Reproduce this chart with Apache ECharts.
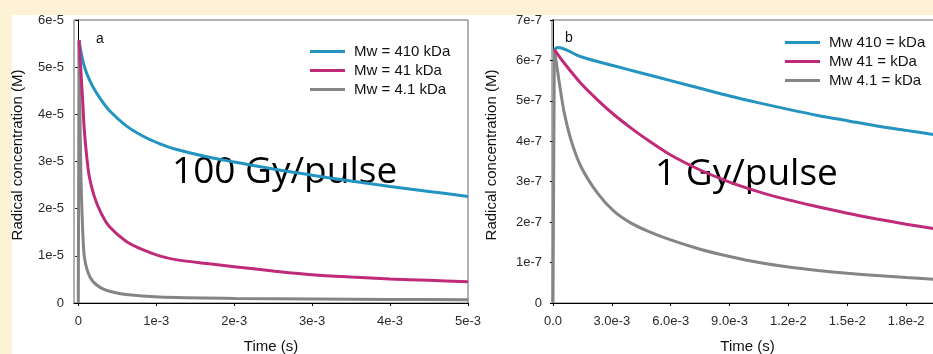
<!DOCTYPE html>
<html>
<head>
<meta charset="utf-8">
<script src="https://cdn.jsdelivr.net/npm/echarts@6/dist/echarts.min.js"></script>
<style>
html,body{margin:0;padding:0;background:#FDF2D6;}
#c{width:933px;height:354px;}
</style>
</head>
<body>
<div id="c"></div>
<script>
// ---- Panel a : 100 Gy/pulse (time in s, concentration in M)
const namesA = ['Mw = 410 kDa', 'Mw = 41 kDa', 'Mw = 4.1 kDa'];
const tA410 = [1e-5, 2.2e-5, 4.5e-5, 7.7e-5, 1.2e-4, 1.85e-4, 2.91e-4, 3.98e-4, 6.12e-4, 8.26e-4, 1.04e-3, 1.25e-3, 1.68e-3, 2.0e-3, 2.5e-3, 3.0e-3, 3.5e-3, 4.0e-3, 4.5e-3, 5.0e-3];
const cA410 = [5.57e-5, 5.44e-5, 5.24e-5, 5.02e-5, 4.82e-5, 4.59e-5, 4.31e-5, 4.08e-5, 3.76e-5, 3.54e-5, 3.38e-5, 3.26e-5, 3.09e-5, 2.99e-5, 2.84e-5, 2.71e-5, 2.585e-5, 2.47e-5, 2.365e-5, 2.26e-5];
const tA41 = [1e-5, 3e-5, 5.6e-5, 7.7e-5, 1.08e-4, 1.41e-4, 2.05e-4, 2.91e-4, 3.98e-4, 6.12e-4, 8.26e-4, 1.04e-3, 1.25e-3, 1.68e-3, 2.0e-3, 2.5e-3, 3.0e-3, 3.5e-3, 4.0e-3, 4.5e-3, 5.0e-3];
const cA41 = [5.57e-5, 5.0e-5, 4.3e-5, 3.67e-5, 3.11e-5, 2.68e-5, 2.26e-5, 1.91e-5, 1.62e-5, 1.31e-5, 1.13e-5, 1.0e-5, 0.92e-5, 0.83e-5, 0.77e-5, 0.68e-5, 0.60e-5, 0.55e-5, 0.51e-5, 0.48e-5, 0.45e-5];
const tA4 = [1e-5, 2e-5, 3.5e-5, 5.6e-5, 7.7e-5, 1.2e-4, 1.85e-4, 2.9e-4, 4.0e-4, 6.1e-4, 1.04e-3, 2.02e-3, 3.0e-3, 4.0e-3, 5.0e-3];
const cA4 = [5.55e-5, 4.2e-5, 2.61e-5, 1.55e-5, 0.99e-5, 0.67e-5, 0.46e-5, 0.32e-5, 0.25e-5, 0.18e-5, 0.127e-5, 0.098e-5, 0.085e-5, 0.075e-5, 0.068e-5];
const tA4rise = [0, 1e-5];
const cA4rise = [0, 5.55e-5];
const xTicksA = [0, 0.001, 0.002, 0.003, 0.004, 0.005];
const xLabelsA = ['0', '1e-3', '2e-3', '3e-3', '4e-3', '5e-3'];
const yTicksA = [0, 1e-5, 2e-5, 3e-5, 4e-5, 5e-5, 6e-5];
const yLabelsA = ['0', '1e-5', '2e-5', '3e-5', '4e-5', '5e-5', '6e-5'];

// ---- Panel b : 1 Gy/pulse (time in s, concentration in M)
const namesB = ['Mw 410 = kDa', 'Mw 41 = kDa', 'Mw 4.1 = kDa'];
const tB410 = [7e-5, 2.4e-4, 1.43e-3, 3.0e-3, 4.5e-3, 6.0e-3, 7.5e-3, 9.0e-3, 1.05e-2, 1.2e-2, 1.35e-2, 1.5e-2, 1.65e-2, 1.8e-2, 1.99e-2];
const cB410 = [6.27e-7, 6.32e-7, 6.09e-7, 5.88e-7, 5.69e-7, 5.50e-7, 5.31e-7, 5.12e-7, 4.95e-7, 4.79e-7, 4.64e-7, 4.51e-7, 4.38e-7, 4.27e-7, 4.13e-7];
const tB41 = [7e-5, 5.8e-4, 1.43e-3, 2.28e-3, 3.13e-3, 4.0e-3, 4.83e-3, 6.0e-3, 7.5e-3, 9.0e-3, 1.05e-2, 1.2e-2, 1.35e-2, 1.5e-2, 1.65e-2, 1.8e-2, 1.99e-2];
const cB41 = [6.27e-7, 5.93e-7, 5.43e-7, 5.02e-7, 4.65e-7, 4.32e-7, 4.03e-7, 3.66e-7, 3.29e-7, 2.99e-7, 2.75e-7, 2.55e-7, 2.38e-7, 2.22e-7, 2.08e-7, 1.95e-7, 1.80e-7];
const tB4 = [7e-5, 2.4e-4, 4.1e-4, 5.8e-4, 9.2e-4, 1.43e-3, 2.28e-3, 3.13e-3, 4.0e-3, 4.83e-3, 6.0e-3, 7.5e-3, 9.0e-3, 1.05e-2, 1.2e-2, 1.35e-2, 1.5e-2, 1.65e-2, 1.8e-2, 1.99e-2];
const cB4 = [6.27e-7, 5.72e-7, 5.17e-7, 4.69e-7, 4.03e-7, 3.37e-7, 2.71e-7, 2.26e-7, 1.97e-7, 1.78e-7, 1.56e-7, 1.33e-7, 1.15e-7, 1.0e-7, 0.89e-7, 0.805e-7, 0.735e-7, 0.68e-7, 0.628e-7, 0.575e-7];
const tB4rise = [0, 7e-5];
const cB4rise = [0, 6.27e-7];
const xTicksB = [0, 0.003, 0.006, 0.009, 0.012, 0.015, 0.018];
const xLabelsB = ['0.0', '3.0e-3', '6.0e-3', '9.0e-3', '1.2e-2', '1.5e-2', '1.8e-2'];
const yTicksB = [0, 1e-7, 2e-7, 3e-7, 4e-7, 5e-7, 6e-7, 7e-7];
const yLabelsB = ['0', '1e-7', '2e-7', '3e-7', '4e-7', '5e-7', '6e-7', '7e-7'];

const COLORS = ['#2394BF', '#BF2A79', '#858585'];
const FONT = '"Liberation Sans", Arial, sans-serif';

function pairs(t, c) { return t.map((v, i) => [v, c[i]]); }
function lookup(ticks, labels) {
  return function (v) {
    let best = 0, bd = Infinity;
    ticks.forEach((t, i) => { const d = Math.abs(t - v); if (d < bd) { bd = d; best = i; } });
    return labels[best];
  };
}

function xAxis(gi, min, max, ticks, labels) {
  return {
    gridIndex: gi, type: 'value', min: min, max: max,
    name: 'Time (s)', nameLocation: 'middle', nameGap: 36,
    nameTextStyle: { fontFamily: FONT, fontSize: 15, color: '#111' },
    axisLine: { show: true, onZero: false, lineStyle: { color: '#000', width: 1 } },
    axisTick: { show: true, inside: false, length: 3, customValues: ticks, lineStyle: { color: '#000' } },
    axisLabel: { customValues: ticks, formatter: lookup(ticks, labels), fontFamily: FONT, fontSize: 13, color: '#2a2a2a', margin: 12 },
    splitLine: { show: false }
  };
}
function yAxis(gi, max, ticks, labels) {
  return {
    gridIndex: gi, type: 'value', min: 0, max: max,
    axisLine: { show: true, lineStyle: { color: '#000', width: 1 } },
    axisTick: { show: true, inside: false, length: 3, customValues: ticks, lineStyle: { color: '#000' } },
    axisLabel: { customValues: ticks, formatter: lookup(ticks, labels), fontFamily: FONT, fontSize: 13, color: '#2a2a2a', margin: 10 },
    splitLine: { show: false }
  };
}
function line(name, data, color, xi, smooth) {
  return {
    name: name, type: 'line', xAxisIndex: xi, yAxisIndex: xi, data: data,
    showSymbol: false, symbol: 'none', smooth: smooth,
    lineStyle: { color: color, width: 3 }, itemStyle: { color: color },
    emphasis: { disabled: true }, animation: false
  };
}
function legend(names, left, top) {
  return {
    data: names, orient: 'vertical', left: left, top: top, icon: 'rect', padding: 0,
    itemWidth: 35, itemHeight: 3, itemGap: 4,
    textStyle: { fontFamily: FONT, fontSize: 15, color: '#111', padding: [0, 0, 0, 4] },
    selectedMode: false
  };
}

const chart = echarts.init(document.getElementById('c'), null, { renderer: 'canvas' });
chart.setOption({
  animation: false,
  backgroundColor: 'transparent',
  grid: [
    { left: 74, top: 20, width: 394, height: 283, outerBoundsMode: 'none', containLabel: false, show: true, borderColor: '#666', borderWidth: 1, backgroundColor: 'transparent' },
    { left: 552, top: 20, right: -10, height: 283, outerBoundsMode: 'none', containLabel: false, show: true, borderColor: '#666', borderWidth: 1, backgroundColor: 'transparent' }
  ],
  xAxis: [
    xAxis(0, -0.000055, 0.005, xTicksA, xLabelsA),
    xAxis(1, -0.00005, 0.01988, xTicksB, xLabelsB)
  ],
  yAxis: [
    yAxis(0, 6e-5, yTicksA, yLabelsA),
    yAxis(1, 7e-7, yTicksB, yLabelsB)
  ],
  legend: [legend(namesA, 310, 44), legend(namesB, 785, 35)],
  series: [
    line(namesA[0], pairs(tA410, cA410), COLORS[0], 0, 0.3),
    line('riseA', pairs(tA4rise, cA4rise), COLORS[2], 0, false),
    line(namesA[2], pairs(tA4, cA4), COLORS[2], 0, 0.3),
    line(namesA[1], pairs(tA41, cA41), COLORS[1], 0, 0.3),
    line(namesB[0], pairs(tB410, cB410), COLORS[0], 1, 0.3),
    line('riseB', pairs(tB4rise, cB4rise), COLORS[2], 1, false),
    line(namesB[2], pairs(tB4, cB4), COLORS[2], 1, 0.3),
    line(namesB[1], pairs(tB41, cB41), COLORS[1], 1, 0.3)
  ],
  graphic: [
    { type: 'rect', silent: true, z: -10, shape: { x: 12, y: 15, width: 940, height: 360 }, style: { fill: '#ffffff' } },
    { type: 'text', silent: true, x: 18, y: 155, rotation: Math.PI / 2, style: { text: 'Radical concentration (M)', font: '15px ' + FONT, fill: '#111', align: 'center', verticalAlign: 'middle' } },
    { type: 'text', silent: true, x: 492, y: 155, rotation: Math.PI / 2, style: { text: 'Radical concentration (M)', font: '15px ' + FONT, fill: '#111', align: 'center', verticalAlign: 'middle' } },
    { type: 'text', silent: true, x: 96, y: 39, style: { text: 'a', font: '14px ' + FONT, fill: '#111', verticalAlign: 'middle' } },
    { type: 'text', silent: true, x: 565, y: 38, style: { text: 'b', font: '14px ' + FONT, fill: '#111', verticalAlign: 'middle' } },
    { type: 'text', silent: true, x: 172, y: 172, style: { text: '100 Gy/pulse', font: '37px "Open Sans"', fill: '#000', verticalAlign: 'middle' } },
    { type: 'text', silent: true, x: 655, y: 174, style: { text: '1 Gy/pulse', font: '37px "Open Sans"', fill: '#000', verticalAlign: 'middle' } }
  ]
});
</script>
</body>
</html>
